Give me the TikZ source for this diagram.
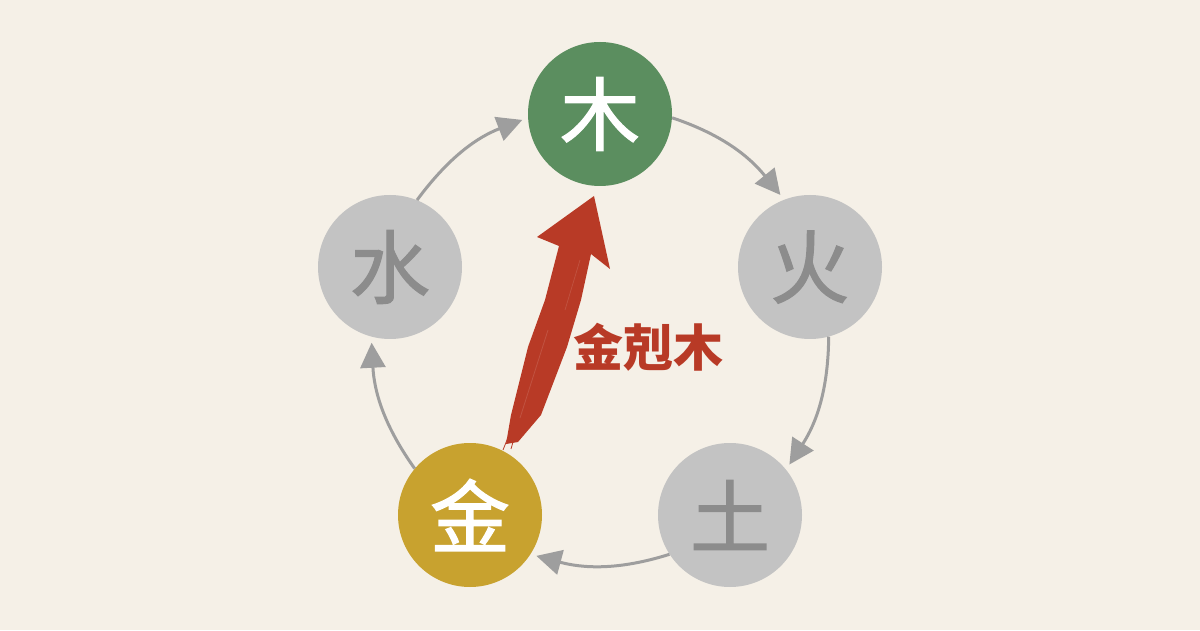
\documentclass[tikz,border=0pt]{standalone}
\usepackage{fontspec}
\newfontfamily\cjk{Noto Sans CJK TC}
\newfontfamily\cjkm[FakeBold=1.5]{Noto Sans CJK TC}
\usetikzlibrary{arrows.meta}
\definecolor{bg}{HTML}{F5F0E7}
\definecolor{woodc}{HTML}{5B8E5F}
\definecolor{goldc}{HTML}{C8A22F}
\definecolor{grayc}{HTML}{C3C3C3}
\definecolor{graytxt}{HTML}{8C8C8C}
\definecolor{arrowc}{HTML}{9E9E9E}
\definecolor{redc}{HTML}{B83A26}
\tikzset{
  elem/.style={circle, minimum size=144pt, inner sep=0pt, font=\cjkm\fontsize{80}{80}\selectfont},
  active/.style={elem, fill=#1, text=white},
  idle/.style={elem, fill=grayc, text=graytxt},
  cycarrow/.style={draw=arrowc, line width=3pt, -{Triangle[length=25pt,width=25pt]}, shorten >=6pt},
}
\begin{document}
\begin{tikzpicture}[x=1pt,y=1pt]
\fill[bg] (0,0) rectangle (1200,630);
\useasboundingbox (0,0) rectangle (1200,630);
\node[active=woodc] (mu) at (600,516) {木};
\node[idle] (huo) at (810,363) {火};
\node[idle] (tu) at (730,115) {土};
\node[active=goldc] (jin) at (470,115) {金};
\node[idle] (shui) at (390,363) {水};
\draw[cycarrow] (mu.-3.5) to[out=-18.5, in=129] (huo.111);
\draw[cycarrow] (huo.-75.5) to[out=-90.5, in=57] (tu.39);
\draw[cycarrow] (tu.-147.5) to[out=-162.5, in=-15] (jin.-33);
\draw[cycarrow] (jin.140.5) to[out=125.5, in=-87] (shui.255);
\draw[cycarrow] (shui.68.5) to[out=53.5, in=201] (mu.183);
% brush arrow 金 -> 木
\fill[redc] (594,434) -- (610,361) -- (591,376) -- (581,330) -- (567,283) -- (541,215) -- (518,188)
  -- (506,186) -- (511,215) -- (528,283) -- (545,330) -- (559,384) -- (537,393) -- cycle;
\draw[redc!75!white, line width=0.8pt, opacity=0.5] (520,212) -- (548,300);
\draw[redc!75!white, line width=0.7pt, opacity=0.5] (565,320) -- (580,370);
\draw[redc, line width=0.8pt] (509,195) -- (503,180);
\draw[redc, line width=0.8pt] (515,195) -- (511,181);
\node[font=\cjk\bfseries\fontsize{50}{50}\selectfont, text=redc] (lbl) at (648,283) {金剋木};
\end{tikzpicture}
\end{document}
